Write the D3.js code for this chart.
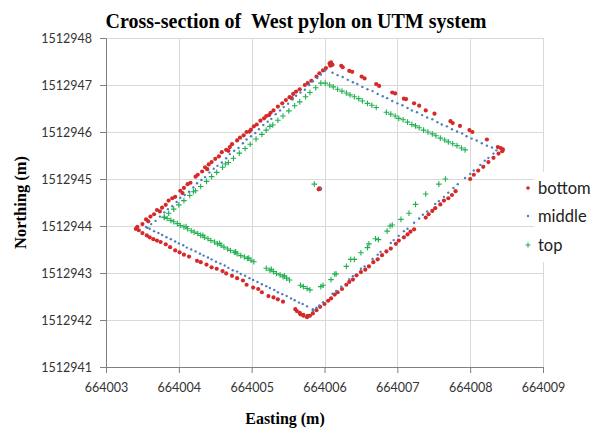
<!DOCTYPE html>
<html>
<head>
<meta charset="utf-8">
<script src="https://cdn.jsdelivr.net/npm/d3@7"></script>
<style>
  body { margin: 0; background: #fff; }
  svg { display: block; }
</style>
</head>
<body>
<div id="chart"></div>
<script>
// axis ticks
const xTicks = [664003, 664004, 664005, 664006, 664007, 664008, 664009]
const yTicks = [1512941, 1512942, 1512943, 1512944, 1512945, 1512946, 1512947, 1512948]
const seriesNames = ['bottom', 'middle', 'top']

// [easting, northing]
const bottomPoints = [
  [664003.43,1512943.98],[664003.50,1512944.04],[664003.55,1512944.14],[664003.61,1512944.20],[664003.66,1512944.25],
  [664003.70,1512944.34],[664003.77,1512944.39],[664003.82,1512944.45],[664003.86,1512944.54],[664003.91,1512944.59],
  [664003.95,1512944.62],[664004.02,1512944.75],[664004.07,1512944.81],[664004.12,1512944.89],[664004.16,1512944.92],
  [664004.23,1512945.05],[664004.26,1512945.09],[664004.32,1512945.16],[664004.36,1512945.25],[664004.41,1512945.31],
  [664004.45,1512945.36],[664004.50,1512945.43],[664004.55,1512945.48],[664004.59,1512945.57],[664004.65,1512945.62],
  [664004.70,1512945.68],[664004.73,1512945.74],[664004.80,1512945.82],[664004.84,1512945.88],[664004.89,1512945.93],
  [664004.93,1512946.00],[664004.99,1512946.05],[664005.03,1512946.12],[664005.07,1512946.16],[664005.12,1512946.24],
  [664005.17,1512946.29],[664005.20,1512946.34],[664005.26,1512946.41],[664005.30,1512946.46],[664005.36,1512946.54],
  [664005.42,1512946.61],[664005.47,1512946.68],[664005.52,1512946.74],[664005.57,1512946.81],[664005.61,1512946.86],
  [664005.66,1512946.91],[664005.73,1512947.00],[664005.77,1512947.04],[664005.82,1512947.09],[664005.89,1512947.18],
  [664005.93,1512947.25],[664005.98,1512947.31],[664006.02,1512947.36],[664006.07,1512947.46],[664006.08,1512947.41],
  [664003.58,1512944.10],[664003.74,1512944.31],[664004.05,1512944.70],[664004.39,1512945.21],[664004.68,1512945.60],
  [664004.97,1512946.01],[664005.24,1512946.36],[664005.55,1512946.72],
  [664006.09,1512947.48],[664006.11,1512947.43],[664006.23,1512947.41],[664006.25,1512947.38],[664006.34,1512947.30],
  [664006.38,1512947.28],[664006.51,1512947.18],[664006.55,1512947.14],[664006.71,1512947.02],[664006.75,1512946.98],
  [664006.93,1512946.84],[664006.97,1512946.82],[664007.09,1512946.71],[664007.12,1512946.70],[664007.23,1512946.61],
  [664007.30,1512946.56],[664007.39,1512946.46],[664007.51,1512946.39],[664007.73,1512946.23],[664007.76,1512946.19],
  [664007.86,1512946.13],[664007.99,1512946.04],[664008.03,1512946.00],[664008.23,1512945.84],[664008.38,1512945.68],
  [664008.42,1512945.66],[664008.45,1512945.63],[664008.44,1512945.59],
  [664008.39,1512945.54],[664008.32,1512945.45],[664008.25,1512945.36],[664008.18,1512945.26],[664008.11,1512945.18],
  [664008.05,1512945.09],[664008.00,1512945.00],[664007.80,1512944.74],[664007.75,1512944.66],[664007.70,1512944.59],
  [664007.64,1512944.54],[664007.59,1512944.46],[664007.52,1512944.38],[664007.48,1512944.32],[664007.43,1512944.25],
  [664007.39,1512944.18],[664007.23,1512943.93],[664007.18,1512943.88],[664007.14,1512943.82],[664007.09,1512943.76],
  [664007.02,1512943.69],[664006.98,1512943.62],[664006.91,1512943.52],[664006.85,1512943.46],[664006.79,1512943.38],
  [664006.73,1512943.29],[664006.67,1512943.23],[664006.61,1512943.14],[664006.56,1512943.07],[664006.50,1512943.02],
  [664006.44,1512942.95],[664006.39,1512942.86],[664006.34,1512942.81],[664006.30,1512942.75],[664006.24,1512942.66],
  [664006.18,1512942.59],[664006.14,1512942.54],[664006.09,1512942.46],[664006.05,1512942.41],[664006.00,1512942.34],
  [664005.94,1512942.28],[664005.89,1512942.21],[664005.84,1512942.14],[664005.80,1512942.09],[664005.76,1512942.06],
  [664005.71,1512942.09],[664005.67,1512942.12],
  [664005.77,1512942.09],[664005.71,1512942.11],[664005.66,1512942.15],[664005.62,1512942.19],[664005.60,1512942.23],
  [664005.43,1512942.39],[664005.36,1512942.44],[664005.30,1512942.48],[664005.23,1512942.51],[664005.14,1512942.59],
  [664005.09,1512942.66],[664005.02,1512942.69],[664004.93,1512942.75],[664004.88,1512942.84],[664004.80,1512942.89],
  [664004.73,1512942.94],[664004.65,1512942.99],[664004.60,1512943.04],[664004.52,1512943.09],[664004.45,1512943.12],
  [664004.38,1512943.18],[664004.30,1512943.23],[664004.25,1512943.26],[664004.14,1512943.35],[664004.07,1512943.39],
  [664004.01,1512943.44],[664003.95,1512943.48],[664003.88,1512943.55],[664003.82,1512943.61],[664003.75,1512943.66],
  [664003.70,1512943.69],[664003.65,1512943.72],[664003.60,1512943.76],[664003.56,1512943.80],[664003.50,1512943.85],
  [664003.45,1512943.91],[664003.41,1512943.94],
  [664005.93,1512944.80],[664005.94,1512944.79],[664005.92,1512944.78]
]

const middlePoints = [
  [664003.57,1512943.96],[664003.62,1512944.04],[664003.68,1512944.11],[664003.74,1512944.20],[664003.80,1512944.29],
  [664003.85,1512944.36],[664003.91,1512944.42],[664003.97,1512944.51],[664004.02,1512944.60],[664004.08,1512944.66],
  [664004.14,1512944.73],[664004.20,1512944.82],[664004.25,1512944.91],[664004.31,1512944.98],[664004.36,1512945.04],
  [664004.42,1512945.14],[664004.48,1512945.22],[664004.53,1512945.28],[664004.59,1512945.35],[664004.65,1512945.44],
  [664004.70,1512945.53],[664004.76,1512945.60],[664004.82,1512945.66],[664004.88,1512945.76],[664004.93,1512945.84],
  [664004.99,1512945.91],[664005.05,1512945.98],[664005.10,1512946.06],[664005.16,1512946.15],[664005.22,1512946.22],
  [664005.27,1512946.28],[664005.33,1512946.38],[664005.39,1512946.46],[664005.44,1512946.53],[664005.50,1512946.60],
  [664005.56,1512946.69],[664005.61,1512946.77],[664005.67,1512946.84],[664005.73,1512946.90],[664005.79,1512947.00],
  [664005.84,1512947.08],[664005.90,1512947.15],[664005.95,1512947.22],[664006.01,1512947.31],
  [664006.11,1512947.26],[664006.18,1512947.21],[664006.25,1512947.17],[664006.32,1512947.11],[664006.39,1512947.06],
  [664006.45,1512947.02],[664006.52,1512946.96],[664006.59,1512946.91],[664006.66,1512946.87],[664006.73,1512946.81],
  [664006.80,1512946.76],[664006.86,1512946.72],[664006.93,1512946.66],[664007.00,1512946.61],[664007.07,1512946.57],
  [664007.14,1512946.51],[664007.20,1512946.46],[664007.27,1512946.42],[664007.34,1512946.36],[664007.41,1512946.31],
  [664007.48,1512946.27],[664007.55,1512946.21],[664007.61,1512946.16],[664007.68,1512946.12],[664007.75,1512946.06],
  [664007.82,1512946.01],[664007.89,1512945.97],[664007.95,1512945.91],[664008.02,1512945.86],[664008.09,1512945.82],
  [664008.16,1512945.76],[664008.23,1512945.71],[664008.30,1512945.67],[664008.36,1512945.61],
  [664008.32,1512945.54],[664008.25,1512945.45],[664008.20,1512945.39],[664008.14,1512945.30],[664008.05,1512945.18],
  [664008.00,1512945.11],[664007.93,1512945.02],[664007.83,1512944.89],[664007.77,1512944.81],[664007.70,1512944.71],
  [664007.64,1512944.62],[664007.57,1512944.53],[664007.52,1512944.47],[664007.41,1512944.31],[664007.35,1512944.24],
  [664007.30,1512944.16],[664007.23,1512944.07],[664007.14,1512943.94],[664007.09,1512943.89],[664007.02,1512943.79],
  [664006.95,1512943.70],[664006.91,1512943.64],[664006.77,1512943.45],[664006.73,1512943.39],[664006.66,1512943.30],
  [664006.55,1512943.14],[664006.50,1512943.09],[664006.39,1512942.93],[664006.34,1512942.87],[664006.23,1512942.71],
  [664006.16,1512942.62],[664006.11,1512942.56],[664005.98,1512942.38],[664005.93,1512942.31],[664005.89,1512942.26],
  [664005.84,1512942.19],
  [664005.84,1512942.23],[664005.76,1512942.29],[664005.70,1512942.34],[664005.65,1512942.37],[664005.59,1512942.42],
  [664005.54,1512942.46],[664005.48,1512942.51],[664005.42,1512942.55],[664005.36,1512942.59],[664005.31,1512942.64],
  [664005.25,1512942.68],[664005.20,1512942.72],[664005.14,1512942.76],[664005.08,1512942.81],[664005.02,1512942.85],
  [664004.97,1512942.89],[664004.91,1512942.94],[664004.85,1512942.98],[664004.80,1512943.03],[664004.74,1512943.06],
  [664004.68,1512943.11],[664004.63,1512943.16],[664004.57,1512943.20],[664004.51,1512943.24],[664004.45,1512943.29],
  [664004.40,1512943.33],[664004.34,1512943.37],[664004.29,1512943.41],[664004.23,1512943.46],[664004.17,1512943.50],
  [664004.11,1512943.54],[664004.06,1512943.59],[664004.00,1512943.63],[664003.95,1512943.67],[664003.89,1512943.72],
  [664003.83,1512943.76],[664003.77,1512943.81],[664003.72,1512943.85],[664003.66,1512943.89],[664003.60,1512943.94],
  [664003.55,1512943.98],
  [664005.95,1512944.80]
]

const topPoints = [
  [664003.80,1512944.18],[664003.86,1512944.27],[664003.93,1512944.36],[664004.00,1512944.45],[664004.07,1512944.54],
  [664004.15,1512944.65],[664004.23,1512944.75],[664004.30,1512944.84],[664004.38,1512944.95],[664004.45,1512945.05],
  [664004.52,1512945.14],[664004.60,1512945.25],[664004.68,1512945.35],[664004.75,1512945.44],[664004.83,1512945.55],
  [664004.91,1512945.65],[664004.98,1512945.74],[664005.06,1512945.85],[664005.14,1512945.95],[664005.20,1512946.04],
  [664005.29,1512946.15],[664005.36,1512946.25],[664005.43,1512946.34],[664005.51,1512946.45],[664005.59,1512946.56],
  [664005.66,1512946.64],[664005.74,1512946.75],[664005.80,1512946.84],[664005.88,1512946.94],[664005.95,1512947.04],
  [664006.01,1512947.04],[664006.07,1512947.00],[664006.12,1512946.96],[664006.18,1512946.91],[664006.24,1512946.87],
  [664006.30,1512946.83],[664006.35,1512946.79],[664006.41,1512946.75],[664006.47,1512946.71],[664006.52,1512946.66],
  [664006.59,1512946.61],[664006.65,1512946.57],[664006.71,1512946.52],[664006.85,1512946.42],[664006.91,1512946.38],
  [664006.97,1512946.34],[664007.02,1512946.29],[664007.08,1512946.26],[664007.14,1512946.21],[664007.20,1512946.16],
  [664007.25,1512946.13],[664007.30,1512946.09],[664007.36,1512946.04],[664007.42,1512946.00],[664007.48,1512945.96],
  [664007.53,1512945.92],[664007.59,1512945.87],[664007.65,1512945.83],[664007.70,1512945.79],[664007.76,1512945.75],
  [664007.82,1512945.71],[664007.88,1512945.66],[664007.93,1512945.62],
  [664007.66,1512945.00],[664007.57,1512944.89],[664007.39,1512944.68],[664007.25,1512944.46],[664007.16,1512944.27],
  [664007.05,1512944.14],[664006.93,1512944.02],[664006.90,1512944.00],[664006.86,1512943.89],[664006.74,1512943.71],
  [664006.70,1512943.73],[664006.61,1512943.62],[664006.59,1512943.54],[664006.50,1512943.43],[664006.41,1512943.29],
  [664006.36,1512943.29],[664006.30,1512943.14],[664006.16,1512942.98],[664006.14,1512942.98],[664006.09,1512942.86],
  [664005.98,1512942.74],[664005.95,1512942.71],
  [664003.80,1512944.19],[664003.84,1512944.16],[664003.89,1512944.12],[664003.93,1512944.09],[664003.98,1512944.05],
  [664004.02,1512944.01],[664004.07,1512943.98],[664004.12,1512943.94],[664004.17,1512943.90],[664004.21,1512943.87],
  [664004.26,1512943.84],[664004.30,1512943.80],[664004.35,1512943.76],[664004.40,1512943.73],[664004.44,1512943.69],
  [664004.49,1512943.66],[664004.53,1512943.62],[664004.58,1512943.59],[664004.62,1512943.55],[664004.67,1512943.51],
  [664004.71,1512943.48],[664004.76,1512943.44],[664004.80,1512943.41],[664004.85,1512943.37],[664004.90,1512943.34],
  [664004.94,1512943.31],[664004.99,1512943.27],[664005.03,1512943.24],
  [664005.20,1512943.10],[664005.25,1512943.06],[664005.30,1512943.03],[664005.34,1512942.99],[664005.39,1512942.96],
  [664005.43,1512942.92],[664005.48,1512942.89],[664005.52,1512942.85],
  [664005.67,1512942.74],[664005.71,1512942.71],[664005.76,1512942.67],[664005.80,1512942.64],
  [664004.10,1512943.99],[664004.33,1512943.80],[664004.56,1512943.63],[664004.78,1512943.45],[664004.96,1512943.32],
  [664005.27,1512943.08],[664005.45,1512942.94],[664004.20,1512944.73],[664004.64,1512945.32],[664005.25,1512946.12],
  [664005.86,1512944.89]
]

const width = 595
const height = 433
const plot = { left: 106, right: 543, top: 38, bottom: 367 }
const colors = { bottom: '#d42a2a', middle: '#4a7ebb', top: '#1fb050' }

const svg = d3.select('#chart').append('svg')
  .attr('width', width)
  .attr('height', height)

const x = d3.scaleLinear().domain([664003, 664009]).range([plot.left, plot.right])
const y = d3.scaleLinear().domain([1512941, 1512948]).range([plot.bottom, plot.top])

// gridlines
svg.append('g').selectAll('line.v')
  .data(xTicks.slice(1))
  .enter().append('line')
  .attr('x1', d => Math.round(x(d)) + 0.5).attr('x2', d => Math.round(x(d)) + 0.5)
  .attr('y1', plot.top).attr('y2', plot.bottom)
  .attr('stroke', '#d9d9d9')
svg.append('g').selectAll('line.h')
  .data(yTicks.slice(1))
  .enter().append('line')
  .attr('y1', d => Math.round(y(d)) + 0.5).attr('y2', d => Math.round(y(d)) + 0.5)
  .attr('x1', plot.left).attr('x2', plot.right)
  .attr('stroke', '#d9d9d9')

// axes
const xAxis = svg.append('g')
  .attr('transform', `translate(0,${plot.bottom})`)
  .call(d3.axisBottom(x).tickValues(xTicks).tickFormat(d3.format('d')).tickSize(6).tickPadding(10))
const yAxis = svg.append('g')
  .attr('transform', `translate(${plot.left},0)`)
  .call(d3.axisLeft(y).tickValues(yTicks).tickFormat(d3.format('d')).tickSize(6).tickPadding(8))

for (const ax of [xAxis, yAxis]) {
  ax.selectAll('path, line').attr('stroke', '#808080')
  ax.selectAll('text')
    .attr('fill', '#333')
    .style('font-family', 'Lato, "Open Sans", sans-serif')
    .style('font-size', '12.5px')
}

// series
svg.append('g').selectAll('circle')
  .data(bottomPoints)
  .enter().append('circle')
  .attr('cx', d => x(d[0]))
  .attr('cy', d => y(d[1]))
  .attr('r', 2.1)
  .attr('fill', colors.bottom)

svg.append('g').selectAll('circle')
  .data(middlePoints)
  .enter().append('circle')
  .attr('cx', d => x(d[0]))
  .attr('cy', d => y(d[1]))
  .attr('r', 1.2)
  .attr('fill', colors.middle)

const cross = d3.symbol().type(d3.symbolCross).size(0)
svg.append('g').selectAll('path')
  .data(topPoints)
  .enter().append('path')
  .attr('d', d => {
    const cx = x(d[0]), cy = y(d[1]), s = 2.8
    return `M${cx - s},${cy}H${cx + s}M${cx},${cy - s}V${cy + s}`
  })
  .attr('stroke', colors.top)
  .attr('stroke-width', 1.1)
  .attr('fill', 'none')

// legend
const legend = svg.append('g')
legend.append('rect')
  .attr('x', 534).attr('y', 172).attr('width', 61).attr('height', 90)
  .attr('fill', '#fff')
const legendY = [188, 216, 245]
seriesNames.forEach((name, i) => {
  const g = legend.append('g')
  if (name === 'top') {
    g.append('path')
      .attr('d', `M525.5,${legendY[i]}H530.5M528,${legendY[i] - 2.5}V${legendY[i] + 2.5}`)
      .attr('stroke', colors.top).attr('stroke-width', 1.1)
  } else {
    g.append('circle')
      .attr('cx', 528).attr('cy', legendY[i])
      .attr('r', name === 'bottom' ? 1.8 : 1.2)
      .attr('fill', colors[name])
  }
  g.append('text')
    .attr('x', 538).attr('y', legendY[i])
    .attr('dy', '0.35em')
    .style('font-family', 'Lato, "Open Sans", sans-serif')
    .style('font-size', '16.5px')
    .attr('fill', '#222')
    .text(name)
})

// titles
svg.append('text')
  .attr('x', 296).attr('y', 28)
  .attr('text-anchor', 'middle')
  .style('font-family', '"Liberation Serif", "Times New Roman", serif')
  .style('font-weight', 'bold')
  .style('font-size', '20px')
  .style('white-space', 'pre')
  .text('Cross-section of  West pylon on UTM system')

svg.append('text')
  .attr('x', 285).attr('y', 424)
  .attr('text-anchor', 'middle')
  .style('font-family', '"Liberation Serif", "Times New Roman", serif')
  .style('font-weight', 'bold')
  .style('font-size', '16px')
  .text('Easting (m)')

svg.append('text')
  .attr('transform', `translate(26,${(plot.top + plot.bottom) / 2}) rotate(-90)`)
  .attr('text-anchor', 'middle')
  .style('font-family', '"Liberation Serif", "Times New Roman", serif')
  .style('font-weight', 'bold')
  .style('font-size', '16.5px')
  .text('Northing (m)')
</script>
</body>
</html>
